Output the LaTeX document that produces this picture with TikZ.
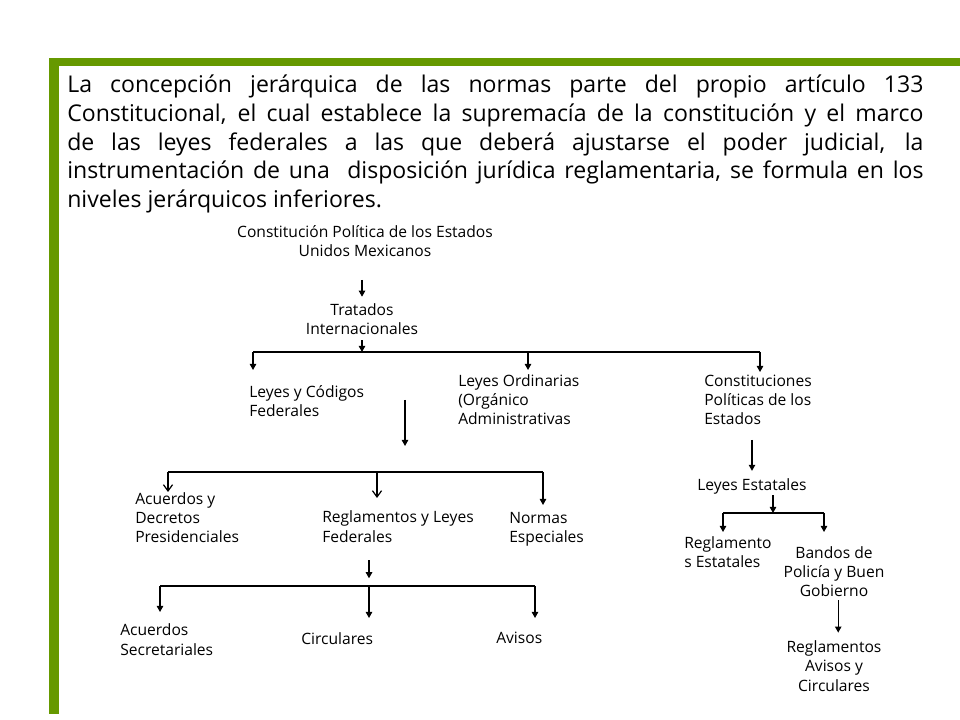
\documentclass[tikz,border=0pt]{standalone}
\usepackage{fontspec}
\setmainfont{Open Sans}
\usetikzlibrary{arrows.meta, positioning}
\definecolor{barGreen}{RGB}{102,153,0}

\begin{document}
\begin{tikzpicture}[x=0.025cm, y=-0.025cm,
  item/.style={inner sep=0pt, font=\fontsize{11.1}{13.6}\selectfont, align=left, anchor=base west},
  title/.style={item, align=center, anchor=base},
  arr/.style={-{Triangle[length=4.3pt,width=4.6pt]}, line width=0.85pt},
  oarr/.style={-{Straight Barb[length=4.5pt,width=6.5pt]}, line width=0.85pt},
  bus/.style={line width=0.85pt}]
  \useasboundingbox[fill=white] (0,0) rectangle (960,720);
  % green frame
  \fill[barGreen] (49,58) rectangle (960,66);
  \fill[barGreen] (49,58) rectangle (59,714);

  \node[inner sep=0pt, anchor=base west, text width=21.4cm, align=justify,
    font=\fontsize{16.4}{20.3}\selectfont] (intro) at (67,93)
    {La concepción jerárquica de las normas parte del propio artículo 133\linebreak
     Constitucional, el cual establece la supremacía de la constitución y el marco\linebreak
     de las leyes federales a las que deberá ajustarse el poder judicial, la\linebreak
     instrumentación de una~ disposición jurídica reglamentaria, se formula en los\linebreak
     niveles jerárquicos inferiores.};

  % federal branch (nodes sit on the baseline of their last line)
  \node[title] (cpeum) at (365,257) {Constitución Política de los Estados\\Unidos Mexicanos};
  \node[title] (trat) at (362,335) {Tratados\\Internacionales};
  \node[item] (leyfed) at (249,417) {Leyes y Códigos\\Federales};
  \node[item] (leyord) at (458,425) {Leyes Ordinarias\\(Orgánico\\Administrativas};
  \node[item] (cpest) at (704,425) {Constituciones\\Políticas de los\\Estados};
  \node[item] (acdec) at (135,543) {Acuerdos y\\Decretos\\Presidenciales};
  \node[item] (reglfed) at (322,542) {Reglamentos y Leyes\\Federales};
  \node[item] (normas) at (509,543) {Normas\\Especiales};
  \node[item] (acsec) at (120,655) {Acuerdos\\Secretariales};
  \node[item] (circ) at (301,644) {Circulares};
  \node[item] (avisos) at (496,643) {Avisos};

  % state branch
  \node[item] (leyest) at (697,491) {Leyes Estatales};
  \node[item] (reglest) at (684,568) {Reglamento\\s Estatales};
  \node[title] (bandos) at (834,597) {Bandos de\\Policía y Buen\\Gobierno};
  \node[title] (regav) at (834,691) {Reglamentos\\Avisos y\\Circulares};

  % junctions
  \coordinate (b1) at (362,352);
  \coordinate (b1w) at (253,352);
  \coordinate (b1m) at (528,352);
  \coordinate (b1e) at (760,352);
  \coordinate (f1) at (405,400);
  \coordinate (b2w) at (168,472);
  \coordinate (b2m) at (377,472);
  \coordinate (b2e) at (543,472);
  \coordinate (b3) at (369,586);
  \coordinate (b3w) at (160,586);
  \coordinate (b3e) at (535,586);
  \coordinate (e1) at (752,440);
  \coordinate (b4) at (773,513);
  \coordinate (b4w) at (723,513);
  \coordinate (b4e) at (824,513);

  \draw[arr, shorten <=16pt, shorten >=5pt] (cpeum.south -| trat.north) -- (trat.north);
  \draw[arr, shorten <=3.5pt] (trat.south -| b1) -- (b1);
  \draw[bus] (b1w) -- (b1e);
  \draw[arr] (b1w) -- ++(0,18);
  \draw[arr] (b1m) -- ++(0,18);
  \draw[arr] (b1e) -- ++(0,20);

  \draw[arr] (f1) -- ++(0,46);
  \draw[bus] (b2w) -- (b2e);
  \draw[oarr] (b2w) -- ++(0,20);
  \draw[oarr] (b2m) -- ++(0,26);
  \draw[arr] (b2e) -- ++(0,33);

  \draw[arr, shorten <=12.8pt, shorten >=5.5pt] (reglfed.south -| b3) -- (b3);
  \draw[bus] (b3w) -- (b3e);
  \draw[arr] (b3w) -- ++(0,26);
  \draw[arr] (b3) -- ++(0,32);
  \draw[arr] (b3e) -- ++(0,32);

  \draw[arr, shorten >=5.7pt] (e1) -- (e1 |- leyest.north);
  \draw[arr] (leyest.south -| b4) -- (b4);
  \draw[bus] (b4w) -- (b4e);
  \draw[arr] (b4w) -- ++(0,19);
  \draw[arr] (b4e) -- ++(0,19);

  \draw[arr, shorten <=2pt, shorten >=5.7pt] ([xshift=3pt]bandos.south) -- ([xshift=3pt]regav.north);
\end{tikzpicture}
\end{document}
